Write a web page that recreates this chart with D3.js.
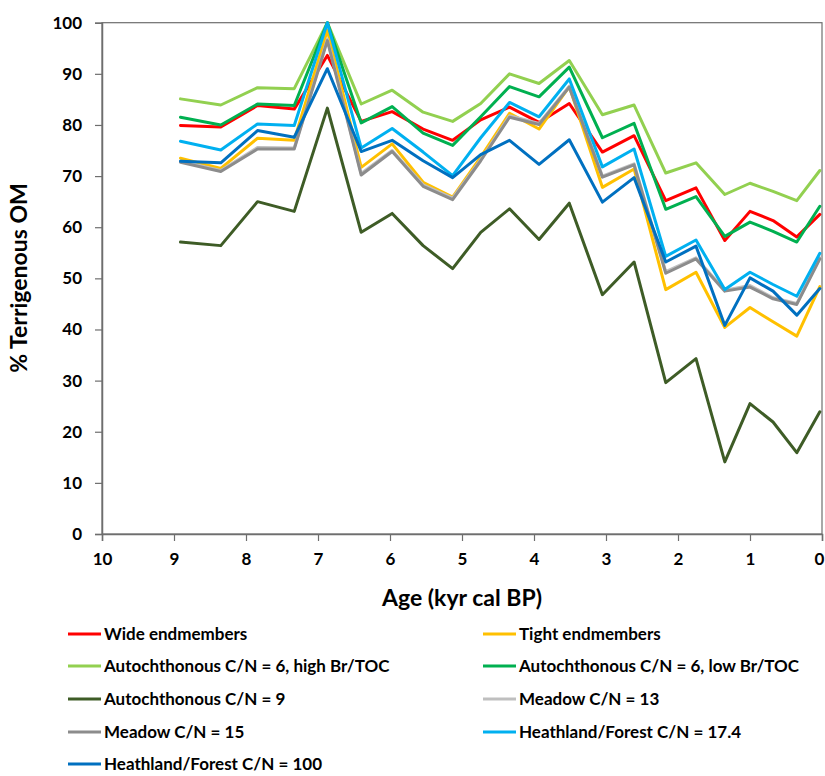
<!DOCTYPE html>
<html>
<head>
<meta charset="utf-8">
<script src="https://cdn.jsdelivr.net/npm/d3@7"></script>
<style>
  body { margin: 0; background: #fff; }
  svg { display: block; }
  text { font-family: Lato, "Open Sans", sans-serif; font-weight: bold; fill: #000; }
</style>
</head>
<body>
<svg id="chart" width="825" height="776"></svg>
<script>
const ages = [8.91, 8.35, 7.84, 7.33, 6.87, 6.40, 5.97, 5.54, 5.13, 4.74, 4.34, 3.93, 3.51, 3.05, 2.61, 2.17, 1.75, 1.35, 1.00, 0.68, 0.35, 0.03];

const wideEndmembers   = [79.9, 79.6, 83.8, 83.1, 93.6, 80.7, 82.6, 79.2, 77.0, 81.0, 83.5, 80.5, 84.2, 74.7, 77.9, 65.2, 67.7, 57.4, 63.1, 61.3, 58.1, 62.5];
const tightEndmembers  = [73.5, 71.5, 77.4, 77.0, 98.5, 71.7, 76.3, 68.8, 65.9, 73.7, 82.3, 79.2, 87.5, 67.8, 71.4, 47.8, 51.2, 40.4, 44.3, 41.5, 38.7, 48.4];
const autoHighBr       = [85.1, 83.9, 87.3, 87.1, 100, 84.1, 86.8, 82.5, 80.7, 84.2, 90.0, 88.1, 92.6, 82.0, 83.9, 70.6, 72.6, 66.4, 68.6, 67.0, 65.2, 71.1];
const autoLowBr        = [81.5, 80.0, 84.1, 83.8, 100, 80.4, 83.6, 78.4, 76.0, 81.6, 87.5, 85.5, 91.3, 77.5, 80.3, 63.5, 66.0, 58.2, 61.0, 59.2, 57.1, 64.1];
const autoCN9          = [57.1, 56.4, 65.0, 63.1, 83.3, 59.0, 62.7, 56.4, 51.9, 59.0, 63.6, 57.6, 64.7, 46.8, 53.2, 29.6, 34.3, 14.1, 25.5, 21.9, 15.9, 23.9];
const meadowCN13       = [72.9, 71.1, 75.6, 75.5, 96.8, 70.5, 75.0, 68.3, 65.7, 73.2, 81.8, 80.3, 87.6, 70.0, 72.4, 51.3, 54.0, 47.7, 48.6, 46.2, 45.1, 54.0];
const meadowCN15       = [72.7, 70.9, 75.3, 75.3, 96.5, 70.2, 74.8, 68.0, 65.4, 73.0, 81.5, 80.1, 87.4, 69.8, 72.2, 51.0, 53.8, 47.5, 48.3, 46.0, 44.9, 53.8];
const heathCN174       = [76.8, 75.1, 80.2, 79.9, 100, 75.5, 79.3, 74.7, 70.1, 77.5, 84.4, 81.6, 89.0, 71.8, 75.3, 54.3, 57.5, 47.8, 51.2, 48.8, 46.5, 54.9];
const heathCN100       = [72.9, 72.6, 78.9, 77.6, 91.0, 74.8, 77.0, 73.0, 69.7, 74.2, 77.0, 72.3, 77.1, 64.9, 69.7, 53.2, 56.3, 40.8, 50.1, 47.5, 42.8, 48.0];

const seriesNames = ["Wide endmembers", "Tight endmembers", "Autochthonous C/N = 6, high Br/TOC", "Autochthonous C/N = 6, low Br/TOC", "Autochthonous C/N = 9", "Meadow C/N = 13", "Meadow C/N = 15", "Heathland/Forest C/N = 17.4", "Heathland/Forest C/N = 100"];
const seriesColors = ["#FF0000", "#FFC000", "#92D050", "#00B050", "#3E5C26", "#BFBFBF", "#8C8C8C", "#00B0F0", "#0070C0"];
const seriesValues = [wideEndmembers, tightEndmembers, autoHighBr, autoLowBr, autoCN9, meadowCN13, meadowCN15, heathCN174, heathCN100];

const xTicks = [10, 9, 8, 7, 6, 5, 4, 3, 2, 1, 0];
const yTicks = [0, 10, 20, 30, 40, 50, 60, 70, 80, 90, 100];
const xTitle = "Age (kyr cal BP)";
const yTitle = "% Terrigenous OM";

const svg = d3.select("#chart");
const plotL = 102, plotR = 822, plotT = 22.7, plotB = 534;

const x = d3.scaleLinear().domain([10, 0]).range([plotL, plotR]);
const y = d3.scaleLinear().domain([0, 100]).range([plotB, plotT]);

// frame
svg.append("rect")
  .attr("x", plotL).attr("y", plotT)
  .attr("width", plotR - plotL).attr("height", plotB - plotT)
  .attr("fill", "none").attr("stroke", "#6e6e6e").attr("stroke-width", 1.2);

// y axis
const yAxis = svg.append("g")
  .attr("transform", `translate(${plotL},0)`)
  .call(d3.axisLeft(y).tickValues(yTicks).tickSize(7).tickPadding(13).tickFormat(d3.format("d")));
yAxis.select(".domain").attr("stroke", "#6e6e6e").attr("stroke-width", 1.5);
yAxis.selectAll(".tick line").attr("stroke", "#6e6e6e").attr("stroke-width", 1.2);
yAxis.selectAll(".tick text").style("font-size", "17px").style("font-family", "Lato, sans-serif").style("font-weight", "bold").attr("fill", "#000");

// x axis
const xAxis = svg.append("g")
  .attr("transform", `translate(0,${plotB})`)
  .call(d3.axisBottom(x).tickValues(xTicks).tickSize(7).tickPadding(12).tickFormat(d3.format("d")));
xAxis.select(".domain").attr("stroke", "#6e6e6e").attr("stroke-width", 1.5);
xAxis.selectAll(".tick line").attr("stroke", "#6e6e6e").attr("stroke-width", 1.2);
xAxis.selectAll(".tick text").style("font-size", "17px").style("font-family", "Lato, sans-serif").style("font-weight", "bold").attr("fill", "#000");
xAxis.selectAll(".tick text").filter(d => d === 0).attr("dx", -3);

// lines
const line = d3.line().x((d, i) => x(ages[i])).y(d => y(d));
seriesValues.forEach((vals, k) => {
  svg.append("path")
    .datum(vals)
    .attr("d", line)
    .attr("fill", "none")
    .attr("stroke", seriesColors[k])
    .attr("stroke-width", 3)
    .attr("stroke-linejoin", "round")
    .attr("stroke-linecap", "round");
});

// titles
svg.append("text")
  .attr("x", 462).attr("y", 606)
  .attr("text-anchor", "middle")
  .style("font-size", "23px")
  .text(xTitle);

svg.append("text")
  .attr("transform", "translate(27,278) rotate(-90)")
  .attr("text-anchor", "middle")
  .style("font-size", "23px")
  .text(yTitle);

// legend
const legCols = [68, 483];
const legRows = [634, 666, 699, 732, 764];
seriesNames.forEach((name, k) => {
  const cx = legCols[k % 2];
  const cy = legRows[Math.floor(k / 2)];
  const g = svg.append("g");
  g.append("line")
    .attr("x1", cx).attr("x2", cx + 33)
    .attr("y1", cy).attr("y2", cy)
    .attr("stroke", seriesColors[k]).attr("stroke-width", 3);
  g.append("text")
    .attr("x", cx + 36).attr("y", cy + 6)
    .style("font-size", "17px")
    .text(name);
});
</script>
</body>
</html>
